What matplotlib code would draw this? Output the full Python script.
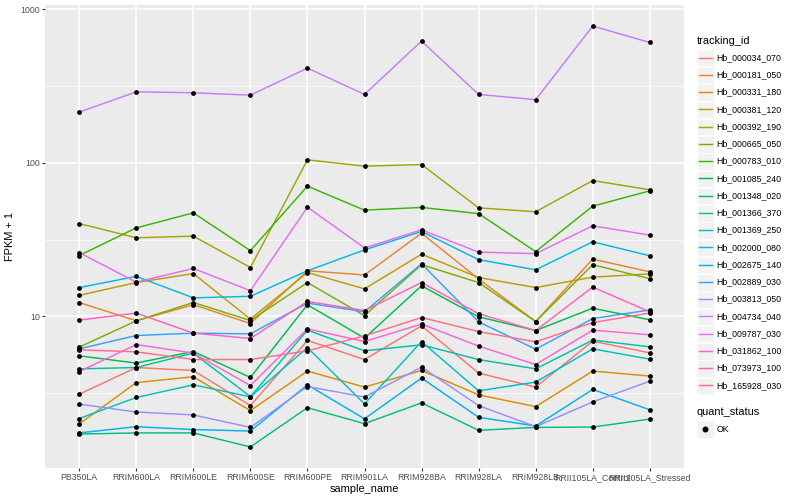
import matplotlib
matplotlib.use('Agg')
import matplotlib.pyplot as plt
from matplotlib.lines import Line2D
from matplotlib.patches import Rectangle
from matplotlib.ticker import FixedLocator, NullFormatter

plt.rcParams['font.family'] = ['Liberation Sans', 'DejaVu Sans']

samples = ['PB350LA', 'RRIM600LA', 'RRIM600LE', 'RRIM600SE', 'RRIM600PE', 'RRIM901LA',
           'RRIM928BA', 'RRIM928LA', 'RRIM928LB', 'RRII105LA_Control', 'RRII105LA_Stressed']

# FPKM + 1 per gene, one value per sample
hb_000034_070 = [3.11, 4.64, 4.44, 2.62, 6.96, 5.23, 8.67, 4.27, 3.46, 6.89, 5.78]
hb_000181_050 = [12.3, 9.35, 11.9, 8.98, 19.8, 18.6, 34.8, 17.5, 9.25, 23.6, 19.5]
hb_000331_180 = [1.99, 3.70, 4.04, 2.43, 4.40, 3.46, 4.44, 3.08, 2.58, 4.40, 4.08]
hb_000381_120 = [13.7, 16.6, 19.0, 9.59, 19.3, 15.1, 25.4, 17.9, 15.4, 18.0, 18.9]
hb_000392_190 = [40.2, 32.5, 33.3, 20.8, 104.6, 95.1, 97.5, 50.9, 48.0, 76.7, 66.7]
hb_000665_050 = [6.30, 9.35, 12.3, 9.39, 16.6, 10.1, 21.7, 16.6, 9.25, 21.7, 17.6]
hb_000783_010 = [24.9, 37.7, 47.2, 26.8, 70.5, 49.2, 51.2, 46.7, 26.4, 52.2, 65.7]
hb_001085_240 = [5.53, 4.96, 5.90, 4.00, 11.9, 7.21, 15.8, 9.93, 8.08, 11.3, 9.49]
hb_001348_020 = [1.71, 1.74, 1.74, 1.41, 2.54, 2.00, 2.73, 1.81, 1.89, 1.90, 2.14]
hb_001366_370 = [4.55, 4.64, 5.76, 3.00, 8.13, 5.96, 6.52, 5.23, 4.55, 7.00, 6.33]
hb_001369_250 = [2.16, 2.96, 3.58, 2.99, 6.26, 2.69, 6.85, 3.27, 3.73, 6.14, 5.26]
hb_002000_080 = [15.4, 18.2, 13.2, 13.5, 19.8, 27.1, 35.7, 23.4, 20.1, 30.6, 24.8]
hb_002675_140 = [1.74, 1.91, 1.83, 1.79, 3.58, 2.15, 3.96, 2.20, 1.93, 3.34, 2.46]
hb_002889_030 = [6.14, 7.50, 7.77, 7.69, 12.2, 10.7, 22.0, 9.21, 6.11, 9.67, 11.0]
hb_003813_050 = [2.68, 2.38, 2.28, 1.89, 3.49, 2.98, 4.67, 2.62, 1.91, 2.77, 3.78]
hb_004734_040 = [214, 290, 286, 276, 414, 279, 621, 279, 258, 778, 608]
hb_009787_030 = [26.0, 16.7, 20.5, 14.7, 51.4, 27.9, 36.6, 26.2, 25.6, 38.9, 33.8]
hb_031862_100 = [4.37, 6.55, 5.76, 3.54, 8.29, 6.85, 8.90, 6.40, 4.85, 8.13, 7.58]
hb_073973_100 = [9.45, 10.5, 7.77, 7.17, 12.5, 10.9, 16.6, 10.4, 8.08, 15.5, 10.7]
hb_165928_030 = [6.05, 5.87, 5.23, 5.23, 5.96, 7.46, 9.82, 7.96, 6.82, 9.11, 10.5]

tracking_ids = ['Hb_000034_070', 'Hb_000181_050', 'Hb_000331_180', 'Hb_000381_120',
                'Hb_000392_190', 'Hb_000665_050', 'Hb_000783_010', 'Hb_001085_240',
                'Hb_001348_020', 'Hb_001366_370', 'Hb_001369_250', 'Hb_002000_080',
                'Hb_002675_140', 'Hb_002889_030', 'Hb_003813_050', 'Hb_004734_040',
                'Hb_009787_030', 'Hb_031862_100', 'Hb_073973_100', 'Hb_165928_030']
series = [hb_000034_070, hb_000181_050, hb_000331_180, hb_000381_120, hb_000392_190,
          hb_000665_050, hb_000783_010, hb_001085_240, hb_001348_020, hb_001366_370,
          hb_001369_250, hb_002000_080, hb_002675_140, hb_002889_030, hb_003813_050,
          hb_004734_040, hb_009787_030, hb_031862_100, hb_073973_100, hb_165928_030]

# ggplot default hue palette, 20 levels
colors = ['#F8766D', '#EA8331', '#D89000', '#C09B00', '#A3A500', '#7CAE00', '#39B600',
          '#00BB4E', '#00BF7D', '#00C1A3', '#00BFC4', '#00BAE0', '#00B0F6', '#35A2FF',
          '#9590FF', '#C77CFF', '#E76BF3', '#FA62DB', '#FF62BC', '#FF6C90']

W, H = 800, 500
fig = plt.figure(figsize=(8, 5), dpi=100)
ax = fig.add_axes([45 / W, 1 - 468 / H, (684 - 45) / W, (468 - 5) / H])
ax.set_facecolor('#EBEBEB')

x = list(range(len(samples)))
for vals, c in zip(series, colors):
    ax.plot(x, vals, color=c, lw=1.05, zorder=2)
for vals in series:
    ax.scatter(x, vals, color='black', s=12, marker='o', lw=0, zorder=3)

ax.set_yscale('log')
ax.set_ylim(1.028, 1067)
ax.set_xlim(-0.6, len(samples) - 0.4)
ax.set_yticks([10, 100, 1000])
ax.set_yticklabels(['10', '100', '1000'])
ax.yaxis.set_minor_locator(FixedLocator([3.162, 31.62, 316.2]))
ax.yaxis.set_minor_formatter(NullFormatter())
ax.set_xticks(x)
ax.set_xticklabels(samples)

ax.grid(which='major', color='white', lw=1.1, zorder=0)
ax.grid(which='minor', axis='y', color='white', lw=0.55, zorder=0)
ax.set_axisbelow(True)
for s in ax.spines.values():
    s.set_visible(False)
ax.tick_params(which='major', length=2.2, width=0.8, color='#333333',
               labelsize=6.3, labelcolor='#4D4D4D', pad=1.5)
ax.tick_params(which='minor', length=0)

ax.set_xlabel('sample_name', fontsize=7.9, labelpad=1.5)
ax.set_ylabel('FPKM + 1', fontsize=7.9, labelpad=4)


def fx(px):
    return px / W


def fy(py):
    return 1 - py / H


# legend: tracking_id
fig.text(fx(696.7), fy(40.7), 'tracking_id', fontsize=7.9, va='center', ha='left')
step = 17.25
for i, (name, c) in enumerate(zip(tracking_ids, colors)):
    yc = 57.7 + step * i
    fig.add_artist(Rectangle((fx(697), fy(yc + step / 2)), 16.5 / W, (step - 0.8) / H,
                             transform=fig.transFigure, facecolor='#F2F2F2',
                             edgecolor='white', lw=0.5))
    fig.add_artist(Line2D([fx(698.5), fx(712)], [fy(yc), fy(yc)],
                          transform=fig.transFigure, color=c, lw=1.05))
    fig.text(fx(716.7), fy(yc), name, fontsize=6.3, va='center', ha='left')

# legend: quant_status
fig.text(fx(696.7), fy(412.3), 'quant_status', fontsize=7.9, va='center', ha='left')
fig.add_artist(Rectangle((fx(697), fy(429 + step / 2)), 16.5 / W, (step - 0.8) / H,
                         transform=fig.transFigure, facecolor='#F2F2F2',
                         edgecolor='white', lw=0.5))
fig.add_artist(Line2D([fx(705)], [fy(429)], transform=fig.transFigure,
                      marker='o', color='black', markersize=3.3, lw=0))
fig.text(fx(716.7), fy(429), 'OK', fontsize=6.3, va='center', ha='left')

fig.savefig('out.png', dpi=100)
